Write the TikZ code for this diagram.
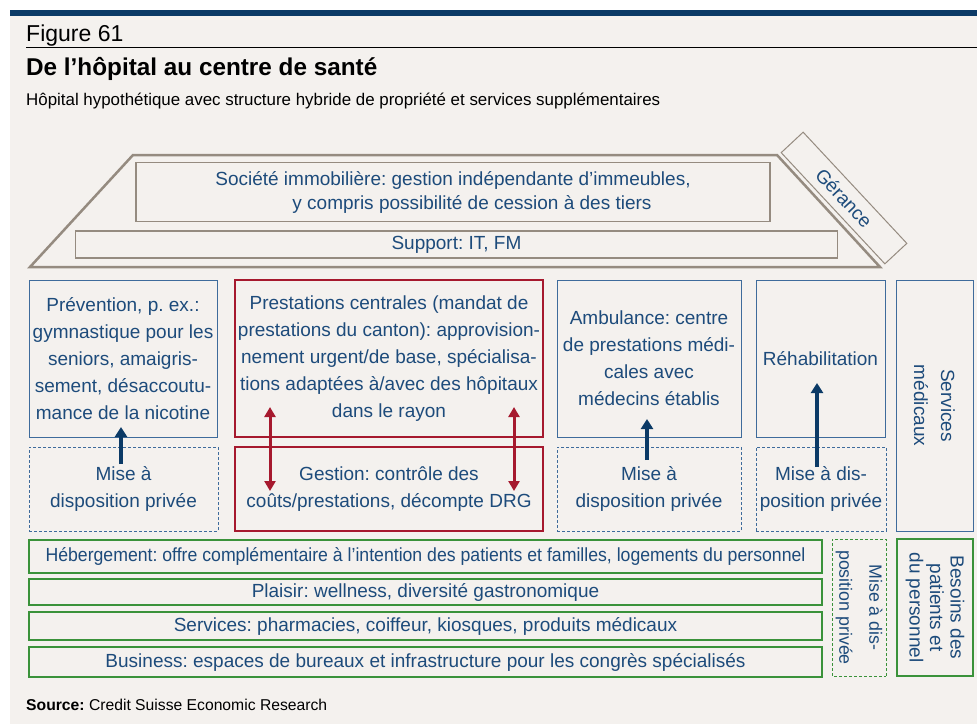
\documentclass[tikz,border=0pt]{standalone}
\usepackage{fontspec}
\setmainfont{Liberation Sans}
\usetikzlibrary{arrows.meta}
\definecolor{bg}{HTML}{F4F1EE}
\definecolor{navy}{HTML}{0B3A66}
\definecolor{txt}{HTML}{1D4B7B}
\definecolor{bblue}{HTML}{3E6B9B}
\definecolor{dred}{HTML}{A6192E}
\definecolor{dgreen}{HTML}{3A923A}
\definecolor{roof}{HTML}{958B80}
\frenchspacing
\tikzset{
  base/.style={inner sep=0pt, outer sep=0pt, align=center, text=txt,
    font=\fontsize{19}{27}\selectfont},
  bluebox/.style={base, draw=bblue, line width=1pt},
  redbox/.style={base, draw=dred, line width=1.6pt},
  dashbox/.style={base, draw=bblue, line width=0.9pt, dash pattern=on 3pt off 2pt},
  greenbox/.style={base, draw=dgreen, line width=1.3pt, font=\fontsize{19}{22}\selectfont},
  greendash/.style={base, draw=dgreen, line width=0.9pt, dash pattern=on 3pt off 2pt, font=\fontsize{17.8}{30}\selectfont},
  graybox/.style={base, draw=roof, line width=1.4pt},
  uparrow/.style={draw=navy, line width=3.6pt, -{Triangle[length=10pt,width=12pt]}},
  redarrow/.style={draw=dred, line width=3pt, {Triangle[length=10pt,width=11pt]}-{Triangle[length=10pt,width=11pt]}},
}
\begin{document}
\begin{tikzpicture}[x=1pt,y=-1pt]
\useasboundingbox (0,0) rectangle (977,724);
\fill[bg] (10,16) rectangle (977,724);
\fill[navy] (10,10) rectangle (977,16);
% header
\node[anchor=base west, inner sep=0pt, font=\fontsize{23}{25}\selectfont] (fig) at (26,41) {Figure 61};
\draw[black, line width=0.8pt] (26,47.5) -- (977,47.5);
\node[anchor=base west, inner sep=0pt, font=\bfseries\fontsize{24.3}{26}\selectfont] (title) at (26,75) {De l’hôpital au centre de santé};
\node[anchor=base west, inner sep=0pt, font=\fontsize{16.9}{18}\selectfont] (sub) at (26,105) {Hôpital hypothétique avec structure hybride de propriété et services supplémentaires};
% roof
\draw[roof, line width=2.5pt, line join=miter] (30,267) -- (133,155) -- (777,155) -- (880,267) -- cycle;
\node[graybox, minimum width=634pt, minimum height=59pt, font=\fontsize{19}{24}\selectfont] (soc) at (453,192) {Société immobilière: gestion indépendante d’immeubles,\\ \hspace*{2em}y compris possibilité de cession à des tiers};
\node[graybox, minimum width=762pt, minimum height=27pt] (sup) at (456.5,244.5) {Support: IT, FM};
\node[base, draw=roof, line width=1pt, minimum width=152pt, minimum height=30pt, rotate=-47] (ger) at (844,198) {Gérance};
% middle row
\node[bluebox, minimum width=188pt, minimum height=157pt] (prev) at (123,358.5) {Prévention, p. ex.:\\gymnastique pour les\\seniors, amaigris-\\sement, désaccoutu-\\mance de la nicotine};
\node[redbox, minimum width=308pt, minimum height=157pt] (prest) at (389,358.5) {Prestations centrales (mandat de\\prestations du canton): approvision-\\nement urgent/de base, spécialisa-\\tions adaptées à/avec des hôpitaux\\dans le rayon};
\node[bluebox, minimum width=184pt, minimum height=157pt] (amb) at (649,358.5) {Ambulance: centre\\de prestations médi-\\cales avec\\médecins établis};
\node[bluebox, minimum width=129pt, minimum height=157pt] (reh) at (820.5,358.5) {Réhabilitation};
\node[bluebox, rotate=-90, minimum width=251pt, minimum height=77pt] (serv) at (934.5,405.5) {Services\\médicaux};
\node[dashbox, minimum width=189pt, minimum height=84pt] (mad1) at (123.5,489) {Mise à\\disposition privée};
\node[redbox, minimum width=308pt, minimum height=84pt] (gest) at (389,489) {Gestion: contrôle des\\coûts/prestations, décompte DRG};
\node[dashbox, minimum width=184pt, minimum height=84pt] (mad2) at (649,489) {Mise à\\disposition privée};
\node[dashbox, minimum width=130pt, minimum height=84pt] (mad3) at (821,489) {Mise à dis-\\position privée};
% green rows
\node[greenbox, minimum width=793pt, minimum height=33pt] (heb) at (425.5,556.5) {\scalebox{0.93}[1]{Hébergement: offre complémentaire à l’intention des patients et familles, logements du personnel}};
\node[greenbox, minimum width=793pt, minimum height=26pt] (pla) at (425.5,592) {Plaisir: wellness, diversité gastronomique};
\node[greenbox, minimum width=793pt, minimum height=28pt] (ser) at (425.5,626) {Services: pharmacies, coiffeur, kiosques, produits médicaux};
\node[greenbox, minimum width=793pt, minimum height=30pt] (bus) at (425.5,662) {Business: espaces de bureaux et infrastructure pour les congrès spécialisés};
\node[greendash, rotate=-90, minimum width=137pt, minimum height=54pt] (madg) at (859,607.5) {Mise à dis-\\position privée};
\node[greenbox, rotate=-90, minimum width=137pt, minimum height=76pt, font=\fontsize{19}{20.5}\selectfont] (bes) at (935,607.5) {Besoins des\\patients et\\du personnel};
% arrows
\coordinate (a1s) at (121,464); \coordinate (a1e) at (121,427);
\coordinate (a2s) at (647,460); \coordinate (a2e) at (647,419);
\coordinate (a3s) at (817,467); \coordinate (a3e) at (817,383);
\coordinate (r1s) at (270,407); \coordinate (r1e) at (270,491);
\coordinate (r2s) at (514,407); \coordinate (r2e) at (514,491);
\draw[uparrow] (a1s) -- (a1e);
\draw[uparrow] (a2s) -- (a2e);
\draw[uparrow] (a3s) -- (a3e);
\draw[redarrow] (r1s) -- (r1e);
\draw[redarrow] (r2s) -- (r2e);
% source
\node[anchor=base west, inner sep=0pt, font=\fontsize{15.7}{17}\selectfont] (src) at (26,710) {\textbf{Source:} Credit Suisse Economic Research};
\end{tikzpicture}
\end{document}
